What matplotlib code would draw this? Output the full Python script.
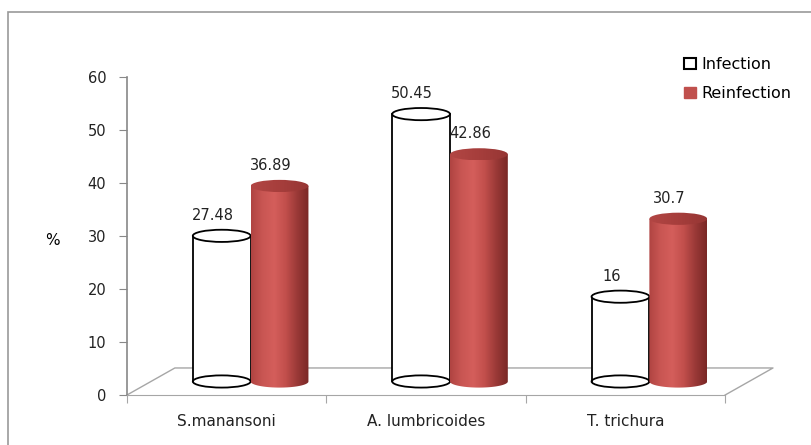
import numpy as np
import matplotlib.pyplot as plt
from matplotlib.patches import Ellipse, Rectangle, PathPatch, Patch
from matplotlib.path import Path
from matplotlib.colors import LinearSegmentedColormap

categories = ['S.manansoni', 'A. lumbricoides', 'T. trichura']
infection = [27.48, 50.45, 16]
reinfection = [36.89, 42.86, 30.7]
infection_labels = ['27.48', '50.45', '16']
reinfection_labels = ['36.89', '42.86', '30.7']

# pseudo-3d geometry (data units)
DEPTH_X, DEPTH_Y = 0.24, 5.1
CYL_W, ELL_H = 0.29, 2.3
RED = '#c0504d'
red_cmap = LinearSegmentedColormap.from_list(
    'cyl', ['#b04442', '#c95653', '#d45e5b', '#c24f4c', '#9a3937', '#7a2826'])
top_cmap = LinearSegmentedColormap.from_list('cyltop', ['#b24644', '#a63e3c', '#963634'])


def silhouette(cx, top, base):
    # body outline: flat top edge, sides, lower half of the base ellipse
    t = np.linspace(0, np.pi, 60)
    xs = cx + CYL_W / 2 * np.cos(t)
    ys = base - ELL_H / 2 * np.sin(t)
    verts = [(cx - CYL_W / 2, top), (cx + CYL_W / 2, top)] + list(zip(xs, ys)) + [(cx - CYL_W / 2, top)]
    return Path(verts)


def white_cylinder(ax, cx, value, z):
    base = DEPTH_Y / 2
    top = base + value
    ax.add_patch(PathPatch(silhouette(cx, top, base), facecolor='white', edgecolor='none', zorder=z))
    for sx in (cx - CYL_W / 2, cx + CYL_W / 2):
        ax.plot([sx, sx], [base, top], color='black', lw=1.3, zorder=z + 0.1)
    ax.add_patch(Ellipse((cx, base), CYL_W, ELL_H, facecolor='none', edgecolor='black', lw=1.3, zorder=z + 0.1))
    ax.add_patch(Ellipse((cx, top), CYL_W, ELL_H, facecolor='white', edgecolor='black', lw=1.3, zorder=z + 0.2))
    return top


def red_cylinder(ax, cx, value, z):
    base = DEPTH_Y / 2
    top = base + value
    clip = PathPatch(silhouette(cx, top, base), facecolor='none', edgecolor='none', zorder=z)
    ax.add_patch(clip)
    grad = np.linspace(0, 1, 200).reshape(1, -1)
    im = ax.imshow(grad, cmap=red_cmap, aspect='auto', zorder=z,
                   extent=[cx - CYL_W / 2, cx + CYL_W / 2, base - ELL_H, top], interpolation='bilinear')
    im.set_clip_path(clip)
    cap = Ellipse((cx, top), CYL_W, ELL_H, facecolor='none', edgecolor='none', zorder=z + 0.2)
    ax.add_patch(cap)
    im2 = ax.imshow(grad, cmap=top_cmap, aspect='auto', zorder=z + 0.2,
                    extent=[cx - CYL_W / 2, cx + CYL_W / 2, top - ELL_H / 2, top + ELL_H / 2],
                    interpolation='bilinear')
    im2.set_clip_path(cap)
    return top


fig = plt.figure(figsize=(8.12, 4.45), dpi=100)
ax = fig.add_axes([127 / 812, 50 / 445, 646 / 812, 318 / 445])

n = len(categories)
for i in range(n):
    mid = i + 0.5 + DEPTH_X / 2
    cx_inf = mid - CYL_W / 2
    cx_rei = mid + CYL_W / 2
    z = 3 + i
    t1 = white_cylinder(ax, cx_inf, infection[i], z)
    t2 = red_cylinder(ax, cx_rei, reinfection[i], z + 0.5)
    ax.text(cx_inf - 0.045, t1 + ELL_H / 2 + 1.9, infection_labels[i], ha='center', va='baseline',
            fontsize=10.5, color='#222222', zorder=10)
    ax.text(cx_rei - 0.045, t2 + ELL_H / 2 + 1.9, reinfection_labels[i], ha='center', va='baseline',
            fontsize=10.5, color='#222222', zorder=10)

# floor of the 3d plot
floor_col = '#a6a6a6'
ax.plot([0, DEPTH_X, n + DEPTH_X, n], [0, DEPTH_Y, DEPTH_Y, 0], color=floor_col, lw=1, zorder=1, clip_on=False)

ax.set_xlim(0, n + DEPTH_X)
ax.set_ylim(0, 60)
ax.set_yticks(range(0, 61, 10))
ax.set_xticks(range(0, n + 1))
ax.set_xticklabels([])
ax.set_xticks([i + 0.5 for i in range(n)], minor=True)
ax.set_xticklabels(categories, minor=True, fontsize=11, color='#222222')
ax.tick_params(axis='x', which='minor', length=0, pad=14)
ax.tick_params(axis='x', which='major', length=6, color=floor_col, direction='out')
ax.tick_params(axis='y', length=6, color='#888888', labelsize=10.5, labelcolor='#222222', pad=9)
for side in ('top', 'right'):
    ax.spines[side].set_visible(False)
ax.spines['left'].set_color('#888888')
ax.spines['left'].set_linewidth(1.2)
ax.spines['bottom'].set_color(floor_col)
ax.spines['bottom'].set_bounds(0, n)
ax.set_facecolor('none')
ax.set_ylabel('%', rotation=0, fontsize=11, va='center')
ax.yaxis.set_label_coords(-75 / 646, 0.485)

handles = [Patch(facecolor='white', edgecolor='black', lw=1.5, label='Infection'),
           Patch(facecolor=RED, edgecolor=RED, label='Reinfection')]
fig.legend(handles=handles, loc='upper left', bbox_to_anchor=(670 / 812, 1 - 43 / 445), frameon=False,
           handlelength=0.7, handleheight=0.7, handletextpad=0.35, labelspacing=0.85,
           prop={'size': 11.5})

# outer chart frame
fig.patches.append(Rectangle((8 / 812, -0.1), 1.1, 1.1 - 12 / 445, transform=fig.transFigure,
                             fill=False, edgecolor='#999999', lw=1.2))

fig.savefig('out.png', dpi=100)
